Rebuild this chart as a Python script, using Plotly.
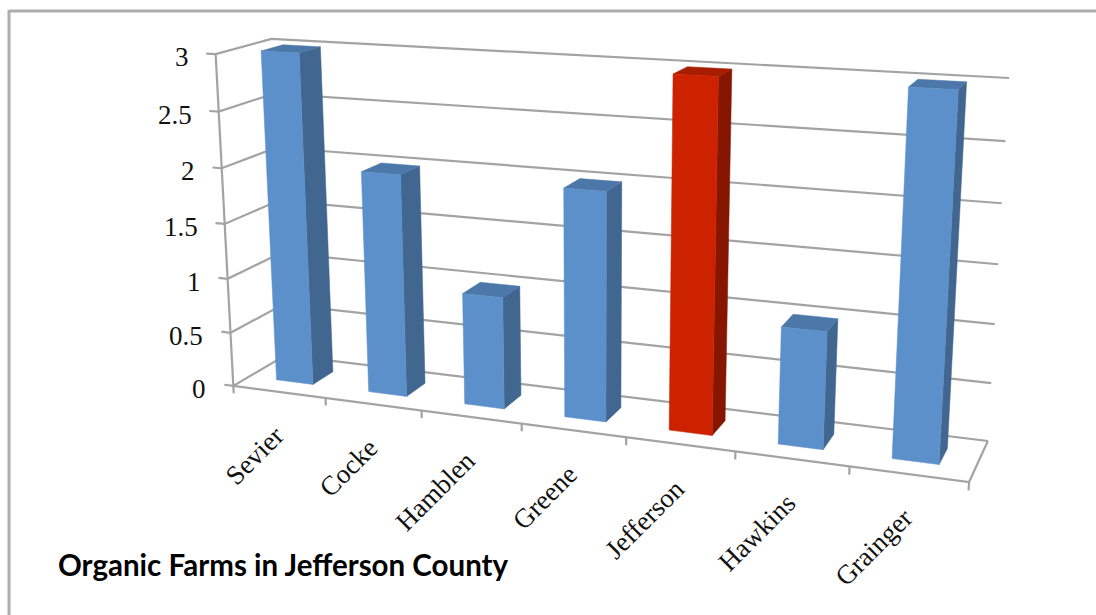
import numpy as np
import plotly.graph_objects as go

# Chart data
counties = ["Sevier", "Cocke", "Hamblen", "Greene", "Jefferson", "Hawkins", "Grainger"]
organic_farms = [3, 2, 1, 2, 3, 1, 3]
value_ticks = [0, 0.5, 1, 1.5, 2, 2.5, 3]
value_tick_labels = ["0", "0.5", "1", "1.5", "2", "2.5", "3"]
chart_title = "Organic Farms in Jefferson County"
highlighted = "Jefferson"

# Bar faces: (front, side, top)
BLUE_FACES = ("#5C90CB", "#41668F", "#4C77A9")
RED_FACES = ("#CC2200", "#871600", "#A81C00")
GRID = "#A3A3A3"
FRAME = "#ADADAD"
TEXT_FONT = "Liberation Serif"

BAR_HALF = 0.2      # half of the bar width, in category units
DEPTH_NEAR, DEPTH_FAR = 0.3, 0.7


def fit_view():
    """Solve a 3x4 perspective view from the corners of the chart box.

    Box coordinates: category position, depth (0 front, 1 back), value.
    """
    n, top = len(counties), max(value_ticks)
    box = [(0, 0, 0), (0, 0, top), (0, 1, 0), (0, 1, top), (n, 1, 0), (n, 1, top), (n, 0, 0)]
    page = [(234, 386), (215, 54), (285, 355), (272, 39), (988, 441), (1009, 78), (969, 482)]
    rows, rhs = [], []
    for (u, v, w), (px, py) in zip(box, page):
        rows.append([u, v, w, 1, 0, 0, 0, 0, -px * u, -px * v, -px * w])
        rows.append([0, 0, 0, 0, u, v, w, 1, -py * u, -py * v, -py * w])
        rhs += [px, py]
    solution = np.linalg.lstsq(np.array(rows, float), np.array(rhs, float), rcond=None)[0]
    return np.append(solution, 1.0).reshape(3, 4)


VIEW = fit_view()


def project(u, v, w):
    x, y, h = VIEW @ np.array([u, v, w, 1.0])
    return x / h, y / h


def line_path(points):
    xy = [project(*p) for p in points]
    return [p[0] for p in xy], [p[1] for p in xy]


fig = go.Figure()


def add_line(points, width=2.2):
    xs, ys = line_path(points)
    fig.add_trace(go.Scatter(x=xs, y=ys, mode="lines", line=dict(color=GRID, width=width),
                             hoverinfo="skip", showlegend=False))


def add_face(points, color, name):
    xs, ys = line_path(points)
    fig.add_trace(go.Scatter(x=xs, y=ys, mode="lines", fill="toself", fillcolor=color,
                             line=dict(color=color, width=0.5), name=name,
                             hoverinfo="name", showlegend=False))


n_cat = len(counties)

# Gridlines on the side and back walls, each with a short outward tick
for tick in value_ticks:
    add_line([(-0.1, 0, tick), (0, 0, tick), (0, 1, tick), (n_cat, 1, tick)])

# Value axis, floor edges and category ticks
add_line([(0, 0, 0), (0, 0, max(value_ticks))])
add_line([(0, 0, 0), (n_cat, 0, 0), (n_cat, 1, 0)])
for i in range(n_cat + 1):
    add_line([(i, 0, 0), (i, 0, -0.07)])

# Bars, drawn from their values
for i, (county, value) in enumerate(zip(counties, organic_farms)):
    front, side, top = RED_FACES if county == highlighted else BLUE_FACES
    left, right = i + 0.5 - BAR_HALF, i + 0.5 + BAR_HALF
    add_face([(right, DEPTH_NEAR, 0), (right, DEPTH_FAR, 0), (right, DEPTH_FAR, value),
              (right, DEPTH_NEAR, value), (right, DEPTH_NEAR, 0)], side, county)
    add_face([(left, DEPTH_NEAR, value), (left, DEPTH_FAR, value), (right, DEPTH_FAR, value),
              (right, DEPTH_NEAR, value), (left, DEPTH_NEAR, value)], top, county)
    add_face([(left, DEPTH_NEAR, 0), (right, DEPTH_NEAR, 0), (right, DEPTH_NEAR, value),
              (left, DEPTH_NEAR, value), (left, DEPTH_NEAR, 0)], front, county)

annotations = []

# Value labels sit left of the axis
for tick, label in zip(value_ticks, value_tick_labels):
    x, y = project(0, 0, tick)
    annotations.append(dict(x=x - 25, y=y + 3, text=label, showarrow=False, xanchor="right",
                            yanchor="middle", font=dict(family=TEXT_FONT, size=27, color="#111111")))

# Category labels hang from below each category, slanted upward
for i, county in enumerate(counties):
    x, y = project(i + 0.5, 0, 0)
    annotations.append(dict(x=x + 13, y=y + 26, text=county, showarrow=False, textangle=-45,
                            xanchor="right", yanchor="top",
                            font=dict(family=TEXT_FONT, size=27, color="#111111")))

annotations.append(dict(x=56, y=564.5, text=f"<b>{chart_title}</b>", showarrow=False, xanchor="left",
                        yanchor="middle", font=dict(family="Lato", size=29.5, color="#000000")))

fig.update_layout(
    width=1096, height=615, margin=dict(l=0, r=0, t=0, b=0),
    paper_bgcolor="white", plot_bgcolor="white", showlegend=False,
    xaxis=dict(range=[0, 1096], visible=False, fixedrange=True),
    yaxis=dict(range=[615, 0], visible=False, fixedrange=True),
    annotations=annotations,
    shapes=[
        dict(type="line", xref="x", yref="y", x0=9, y0=11, x1=1096, y1=11, line=dict(color=FRAME, width=3)),
        dict(type="line", xref="x", yref="y", x0=9, y0=10, x1=9, y1=615, line=dict(color=FRAME, width=3)),
    ],
)

fig.write_html("out.html", config=dict(displayModeBar=False))
